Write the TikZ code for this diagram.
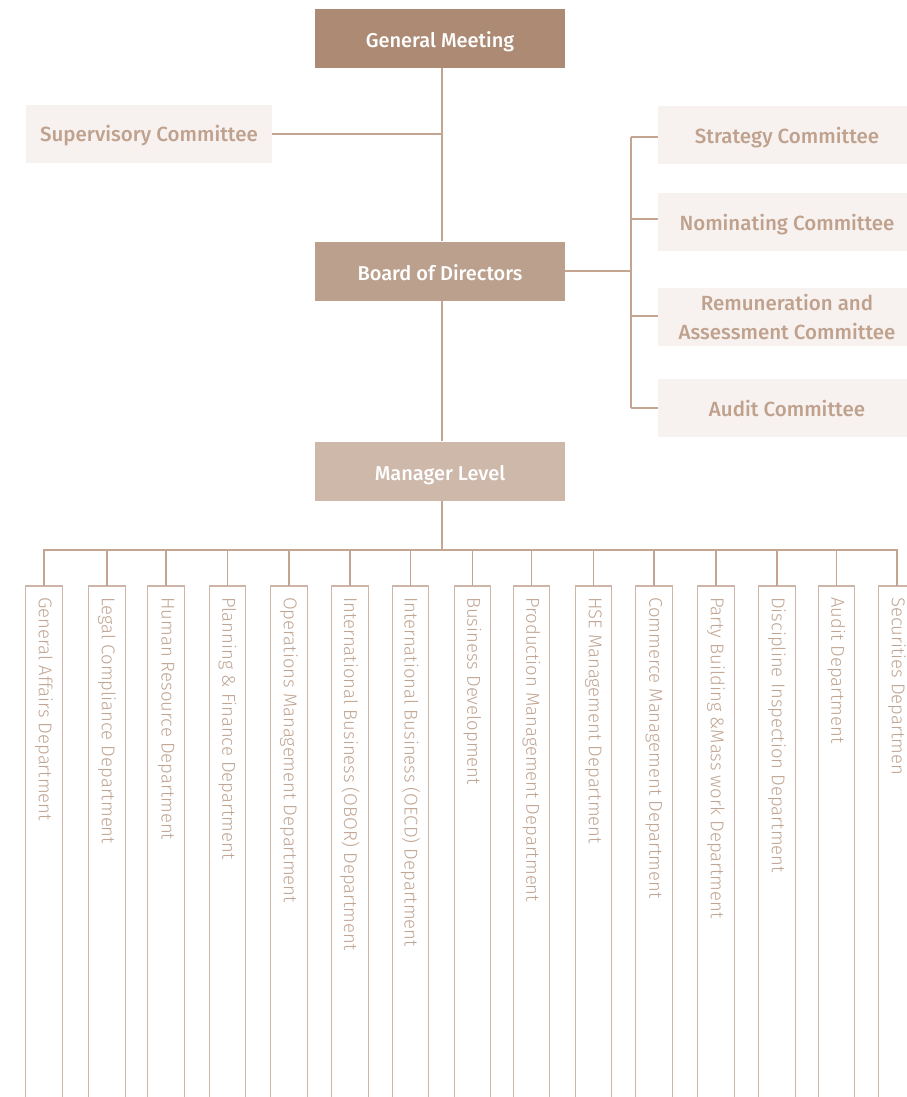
\documentclass[tikz,border=0pt]{standalone}
\usepackage{fontspec}
\setmainfont{Fira Sans}
\newfontfamily\fmed{Fira Sans Medium}
\newfontfamily\flight{Fira Sans Light}
\definecolor{gmfill}{HTML}{AC8A73}
\definecolor{bdfill}{HTML}{BBA08D}
\definecolor{mgfill}{HTML}{CDB8AA}
\definecolor{cmfill}{HTML}{F7F2EF}
\definecolor{cmtext}{HTML}{BFA18D}
\definecolor{lncol}{HTML}{C3A591}
\definecolor{dpline}{HTML}{CDB6A7}
\definecolor{dptext}{HTML}{C0A593}
\tikzset{
  head/.style={fill=#1, minimum width=250pt, minimum height=59pt, inner sep=0pt, text=white, text height=18pt, text depth=0pt, font=\fmed\fontsize{20}{24}\selectfont},
  comm/.style={fill=cmfill, minimum width=258pt, minimum height=58pt, inner sep=0pt, text=cmtext, align=center, font=\fmed\fontsize{20.5}{28.5}\selectfont},
  commone/.style={comm, text height=16pt, text depth=0pt},
  conn/.style={draw=lncol, line width=1.2pt},
  dept/.style={minimum width=36pt, minimum height=530pt, inner sep=0pt, anchor=north},
  deptline/.style={draw=dpline, line width=1.2pt},
  depttext/.style={rotate=-90, anchor=west, inner sep=0pt, text=dptext, font=\flight\fontsize{18.5}{20}\selectfont}
}
\begin{document}
\begin{tikzpicture}[x=1pt,y=-1pt]
\useasboundingbox (0,0) rectangle (906,1097);
% top level
\node[head=gmfill] (gm) at (440,38.5) {General Meeting};
\node[head=bdfill] (bd) at (440,271) {Board of Directors};
\node[head=mgfill] (mg) at (440,471) {Manager Level};
\node[commone, minimum width=246pt] (sup) at (149,134) {Supervisory Committee};
\node[commone] (strat) at (787,135) {Strategy Committee};
\node[commone] (nom) at (787,222) {Nominating Committee};
\node[comm] (rem) at (787,317) {Remuneration and\\Assessment Committee};
\node[commone] (aud) at (787,408) {Audit Committee};
\coordinate (spine) at (631,0);
\coordinate (bus) at (442,550);
% connectors
\draw[conn] (gm.south -| bus) -- (bd.north -| bus);
\draw[conn] (bd.south -| bus) -- (mg.north -| bus);
\draw[conn] (sup.east) -- (sup.east -| bus);
\draw[conn] (bd.east) -- (bd.east -| spine);
\draw[conn] ([yshift=-2pt]strat.west -| spine) -- (aud.west -| spine);
\foreach \c/\dy in {strat/-2, nom/3, rem/1, aud/0}{
  \draw[conn] ([yshift=\dy pt]\c.west -| spine) -- ([yshift=\dy pt]\c.west);
}
\draw[conn] (mg.south -| bus) -- (bus);
% departments
\foreach \i/\x/\t in {
 1/44/{General Affairs Department},
 2/107/{Legal Compliance Department},
 3/166/{Human Resource Department},
 4/227.5/{Planning \& Finance Department},
 5/289/{Operations Management Department},
 6/350/{International Business (OBOR) Department},
 7/410.5/{International Business (OECD) Department},
 8/472.5/{Business Development},
 9/531.5/{Production Management Department},
 10/593.5/{HSE Management Department},
 11/654/{Commerce Management Department},
 12/716/{Party Building \&Mass work Department},
 13/777/{Discipline Inspection Department},
 14/836.5/{Audit Department},
 15/897/{Securities Departmen}}{
  \node[dept] (d\i) at (\x,586) {};
  \draw[deptline] (d\i.south west) -- (d\i.north west) -- (d\i.north east) -- (d\i.south east);
  \node[depttext] (t\i) at ([yshift=-11pt]d\i.north) {\t};
  \draw[conn] (d\i.north) -- (d\i.north |- bus);
}
\draw[conn] ([xshift=-0.6pt]d1.north |- bus) -- ([xshift=0.6pt]d15.north |- bus);
\end{tikzpicture}
\end{document}
